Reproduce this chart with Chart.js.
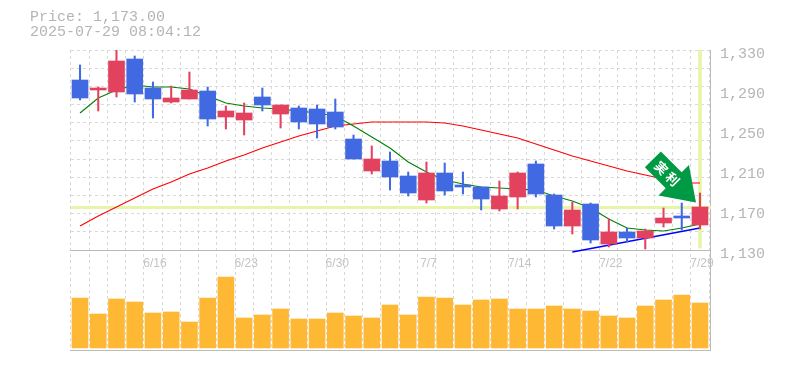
<!DOCTYPE html>
<html><head><meta charset="utf-8">
<style>html,body{margin:0;padding:0;background:#fff}canvas{display:block}</style>
<script src="https://cdn.jsdelivr.net/npm/chart.js@4"></script></head>
<body><canvas id="c" width="785" height="370"></canvas>
<script>
const categories=['6/10','6/11','6/12','6/13','6/16','6/17','6/18','6/19','6/20','6/23','6/24','6/25','6/26','6/27','6/30','7/1','7/2','7/3','7/4','7/7','7/8','7/9','7/10','7/11','7/14','7/15','7/16','7/17','7/18','7/22','7/23','7/24','7/25','7/28','7/29'];
const shownDates=['6/16','6/23','6/30','7/7','7/14','7/22','7/29'];
const opens =[1300,1290,1288,1321,1292,1278,1281,1289,1263,1260,1283,1266,1272,1271,1268,1241,1209,1219,1204,1180,1207,1195,1193,1171,1183,1216,1185,1154,1176,1136,1148,1142,1157,1164,1155];
const closes=[1282,1292,1319,1286,1281,1282,1290,1261,1269,1267,1275,1275,1258,1256,1253,1221,1221,1203,1187,1207,1189,1193,1181,1184,1207,1186,1154,1170,1140,1148,1142,1149,1162,1162,1173];
const highs =[1315,1293,1330,1324,1298,1294,1308,1293,1274,1277,1292,1275,1274,1275,1281,1245,1234,1228,1208,1218,1217,1208,1193,1199,1208,1219,1186,1178,1177,1161,1152,1151,1172,1177,1187];
const lows  =[1280,1269,1283,1278,1262,1277,1281,1254,1251,1245,1269,1252,1251,1242,1251,1221,1206,1190,1184,1177,1185,1186,1170,1169,1171,1183,1151,1146,1137,1133,1138,1131,1153,1150,1151];
const maShort=[1267,1282,1290,1295,1293,1293,1291,1284,1277,1274,1272,1271,1269,1267,1264,1254,1243,1232,1218,1208,1200,1196,1193,1192,1191,1190,1184,1179,1172,1161,1152,1150,1149,1152,1156];
const maLong =[1154,1164,1173,1182,1191,1198,1206,1212,1219,1225,1232,1238,1244,1249,1254,1256,1258,1258,1258,1258,1257,1254,1250,1246,1242,1236,1230,1224,1219,1214,1209,1205,1201,1197,1197];
const trendLine=[null,null,null,null,null,null,null,null,null,null,null,null,null,null,null,null,null,null,null,null,null,null,null,null,null,null,null,1128,null,null,null,null,null,null,1152];
const volumes=[50,34,49,46,35,36,26,50,71,30,33,39,29,29,35,32,30,43,33,51,50,43,48,49,39,39,42,39,37,32,30,42,48,53,45];
const priceTicks=[1130,1170,1210,1250,1290,1330];
const currentPrice=1173;
const titleLines=['Price: 1,173.00','2025-07-29 08:04:12'];
const arrowLabel=['実','利'];

const UP='#E3425F',DOWN='#4169E1',TXT='#b5b5b5',AXIS='#bbbbbb',GRID='#d8d8d8',BAND='#E6F5A6',FONT='"Liberation Mono","DejaVu Sans Mono",monospace';
const bodyColors=opens.map((o,i)=>closes[i]>=o?UP:DOWN);
const lastIndex=categories.length-1;
const bandBar=categories.map((c,i)=>i===lastIndex?[1132,1330]:null);

const overlay={id:'overlay',
 beforeDatasetsDraw(ch){
  const g=ch.ctx,a=ch.chartArea,y=ch.scales.y.getPixelForValue(currentPrice);
  g.save();g.fillStyle=BAND;g.fillRect(a.left,Math.round(y)-1,711-a.left,3);g.restore();
 },
 afterDatasetsDraw(ch){
  const g=ch.ctx,x=ch.scales.x.getPixelForValue(lastIndex),y=ch.scales.y.getPixelForValue(closes[lastIndex]);
  g.save();g.translate(x-4,y-4.5);g.rotate(Math.PI/4);
  // arrow drawn pointing along +x, tip at the origin
  g.fillStyle='#009944';g.beginPath();
  g.moveTo(0,0);g.lineTo(-31.5,-21.5);g.lineTo(-31.5,-11.3);g.lineTo(-61,-11.3);g.lineTo(-61,11.3);g.lineTo(-31.5,11.3);g.lineTo(-31.5,21.5);g.closePath();g.fill();
  g.fillStyle='#fff';g.font='bold 13px "Noto Sans CJK JP"';g.textAlign='center';g.textBaseline='middle';
  g.fillText(arrowLabel[0],-49,0);g.fillText(arrowLabel[1],-33,0);
  g.restore();
 }};

new Chart(document.getElementById('c'),{
 data:{labels:categories,datasets:[
  {type:'bar',label:'bodies',data:opens.map((o,i)=>[o,closes[i]]),backgroundColor:bodyColors,barThickness:16,grouped:false,order:1,yAxisID:'y',borderSkipped:false},
  {type:'bar',label:'wicks',data:lows.map((l,i)=>[l,highs[i]]),backgroundColor:bodyColors,barThickness:1.4,grouped:false,order:2,yAxisID:'y',borderSkipped:false},
  {type:'line',label:'trend',data:trendLine,borderColor:'#0000FF',borderWidth:1.3,pointRadius:0,spanGaps:true,tension:0,order:3,yAxisID:'y'},
  {type:'line',label:'MA short',data:maShort,borderColor:'#008000',borderWidth:1.1,pointRadius:0,tension:0,order:4,yAxisID:'y'},
  {type:'line',label:'MA long',data:maLong,borderColor:'#FF0000',borderWidth:1.1,pointRadius:0,tension:0,order:4,yAxisID:'y'},
  {type:'bar',label:'volume',data:volumes,backgroundColor:'#FFB833',barThickness:16,grouped:false,order:6,yAxisID:'vol'},
  {type:'bar',label:'cursor',data:bandBar,backgroundColor:BAND,barThickness:3,grouped:false,order:7,yAxisID:'y'}
 ]},
 options:{responsive:false,animation:false,events:[],
  layout:{padding:{left:30,top:0,right:0,bottom:20}},
  plugins:{legend:{display:false},tooltip:{enabled:false},
   title:{display:true,align:'start',text:titleLines,color:TXT,font:{family:FONT,size:15,weight:'normal',lineHeight:1},padding:{top:10,bottom:10}}},
  scales:{
   x:{type:'category',position:{y:1130},offset:true,
    grid:{offset:true,color:GRID,drawTicks:false},
    border:{color:AXIS,width:1,dash:[3,3]},
    ticks:{autoSkip:false,maxRotation:0,minRotation:0,padding:6,labelOffset:2,color:'#c4c4c4',font:{family:'"Liberation Sans",sans-serif',size:12},
     callback(v,i){const s=categories[i];return shownDates.includes(s)?s:'';}}},
   xBase:{type:'category',position:'bottom',offset:true,grid:{display:false},border:{color:AXIS,width:1},ticks:{display:false},afterFit(s){s.height=0;}},
   vol:{type:'linear',position:'left',min:-2,max:298,grid:{display:false},border:{display:false},ticks:{display:false},afterFit(s){s.width=40.9;s.paddingTop=0;s.paddingBottom=0;}},
   yGrid:{type:'linear',position:'right',min:1030,max:1330,border:{display:false,dash:[3,3]},ticks:{display:false},
    grid:{color:c=>c.tick.value<1130?'rgba(0,0,0,0)':GRID,tickColor:c=>c.tick.value===1130?AXIS:'rgba(0,0,0,0)',tickLength:2,tickWidth:1},
    afterBuildTicks(s){const t=[];for(let k=0;k<=11;k++)t.push({value:1330-k*200/11});s.ticks=t;},
    afterFit(s){s.width=0.9;s.paddingTop=0;s.paddingBottom=0;}},
   y:{type:'linear',position:'right',min:1030,max:1330,
    grid:{display:false,drawTicks:false},border:{color:AXIS,width:1},
    ticks:{padding:10,color:TXT,labelOffset:4,font:{family:FONT,size:15},autoSkip:false,maxRotation:0,
     callback:v=>v.toLocaleString('en-US')},
    afterBuildTicks(s){s.ticks=priceTicks.map(v=>({value:v}));},
    afterFit(s){s.width=75;s.paddingTop=0;s.paddingBottom=0;}}
  }},
 plugins:[overlay]});
</script></body></html>
